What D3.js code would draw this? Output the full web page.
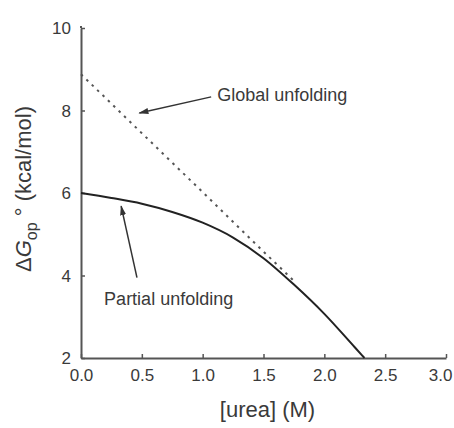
<!DOCTYPE html>
<html>
<head>
<meta charset="utf-8">
<script src="https://d3js.org/d3.v7.min.js"></script>
<style>
  body { margin: 0; background: #fff; }
  text { font-family: "Liberation Sans", Arial, sans-serif; fill: #3a3a3a; }
</style>
</head>
<body>
<svg width="454" height="428"></svg>
<script>
// partial unfolding curve (solid)
var ureaPartial = [0, 0.25, 0.5, 0.75, 1.0, 1.25, 1.5, 1.75, 2.0, 2.25, 2.33];
var dgPartial   = [6.0, 5.88, 5.74, 5.54, 5.28, 4.92, 4.42, 3.78, 3.07, 2.26, 2.0];

// global unfolding line (dotted)
var ureaGlobal = [0, 0.5, 1.0, 1.5, 1.75];
var dgGlobal   = [8.88, 7.45, 6.02, 4.58, 3.87];

var xTicks = [0, 0.5, 1.0, 1.5, 2.0, 2.5, 3.0];
var yTicks = [2, 4, 6, 8, 10];

var svg = d3.select("svg"),
    margin = {left: 81, right: 8, top: 28, bottom: 70},
    width = 454 - margin.left - margin.right,
    height = 428 - margin.top - margin.bottom;

var x = d3.scaleLinear().domain([0, 3]).range([0, width]),
    y = d3.scaleLinear().domain([2, 10]).range([height, 0]);

var g = svg.append("g")
    .attr("transform", "translate(" + margin.left + "," + margin.top + ")");

var axisColor = "#555";

var xAxis = g.append("g")
    .attr("transform", "translate(0," + height + ")")
    .call(d3.axisBottom(x).tickValues(xTicks).tickFormat(d3.format(".1f"))
      .tickSizeInner(-4).tickSizeOuter(0).tickPadding(8));

var yAxis = g.append("g")
    .call(d3.axisLeft(y).tickValues(yTicks).tickFormat(d3.format("d"))
      .tickSizeInner(-4).tickSizeOuter(0).tickPadding(10));

[xAxis, yAxis].forEach(function(a) {
  a.select(".domain").attr("stroke", axisColor).attr("stroke-width", 2);
  a.selectAll(".tick line").attr("stroke", axisColor).attr("stroke-width", 1.5);
  a.selectAll(".tick text").style("font-size", "17px").attr("fill", "#3a3a3a")
    .style("font-family", "Liberation Sans, Arial, sans-serif");
});
xAxis.selectAll(".tick text").attr("dy", "0.9em");
// keep the last label inside the frame
xAxis.selectAll(".tick").filter(function(d) { return d === 3; })
    .select("text").attr("text-anchor", "end").attr("dx", "6");
yAxis.selectAll(".tick text").attr("dy", "0.35em");

// y axis slight overshoot at top
g.append("line")
    .attr("x1", 0).attr("x2", 0)
    .attr("y1", y(10)).attr("y2", y(10) - 2)
    .attr("stroke", axisColor).attr("stroke-width", 2);

var globalPts = ureaGlobal.map(function(u, i) { return [u, dgGlobal[i]]; });
var partialPts = ureaPartial.map(function(u, i) { return [u, dgPartial[i]]; });

var line = d3.line()
    .x(function(d) { return x(d[0]); })
    .y(function(d) { return y(d[1]); });

g.append("path")
    .datum(globalPts)
    .attr("d", line)
    .attr("fill", "none")
    .attr("stroke", "#555")
    .attr("stroke-width", 2)
    .attr("stroke-dasharray", "2.5,5");

g.append("path")
    .datum(partialPts)
    .attr("d", line.curve(d3.curveMonotoneX))
    .attr("fill", "none")
    .attr("stroke", "#222")
    .attr("stroke-width", 2);

// arrowheads
svg.append("defs").append("marker")
    .attr("id", "arrow")
    .attr("viewBox", "0 0 10 6")
    .attr("refX", 9).attr("refY", 3)
    .attr("markerWidth", 10).attr("markerHeight", 6)
    .attr("markerUnits", "userSpaceOnUse")
    .attr("orient", "auto")
  .append("path")
    .attr("d", "M0,0 L10,3 L0,6 Z")
    .attr("fill", "#333");

// annotations [x1, y1, x2, y2] in data units
var arrowGlobal = [1.07, 8.33, 0.48, 7.94];
var arrowPartial = [0.46, 3.95, 0.33, 5.68];

[arrowGlobal, arrowPartial].forEach(function(a) {
  g.append("line")
    .attr("x1", x(a[0])).attr("y1", y(a[1]))
    .attr("x2", x(a[2])).attr("y2", y(a[3]))
    .attr("stroke", "#333").attr("stroke-width", 1.5)
    .attr("marker-end", "url(#arrow)");
});

g.append("text")
    .attr("x", x(1.12)).attr("y", y(8.22))
    .style("font-size", "18px")
    .text("Global unfolding");

g.append("text")
    .attr("x", x(0.19)).attr("y", y(3.28))
    .style("font-size", "18px")
    .text("Partial unfolding");

// axis titles
svg.append("text")
    .attr("x", margin.left + width / 2 + 4)
    .attr("y", 417)
    .attr("text-anchor", "middle")
    .style("font-size", "22px")
    .text("[urea] (M)");

var yt = svg.append("text")
    .attr("text-anchor", "middle")
    .attr("transform", "translate(31," + 189 + ")rotate(-90)")
    .style("font-size", "22px");
yt.append("tspan").text("\u0394");
yt.append("tspan").style("font-style", "italic").text("G");
yt.append("tspan").attr("dy", 6).style("font-size", "16px").text("op");
yt.append("tspan").attr("dy", -6).text(" \u00b0 (kcal/mol)");
</script>
</body>
</html>
